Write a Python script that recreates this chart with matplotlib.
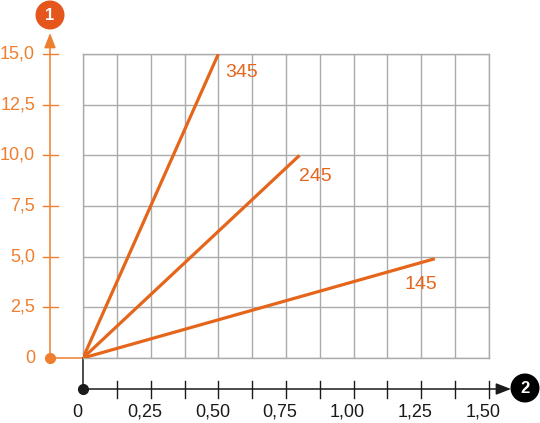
import numpy as np
import matplotlib
matplotlib.use("Agg")
import matplotlib.pyplot as plt
import matplotlib.transforms as mtransforms

plt.rcParams['font.family'] = ['Liberation Sans', 'DejaVu Sans']

# donnees
series_names = ["345", "245", "145"]
x_end = [0.50, 0.80, 1.30]
y_end = [15.0, 10.0, 4.9]
label_x = [0.585, 0.86, 1.25]
label_y = [14.1, 8.95, 3.65]

x_ticks = np.arange(0, 1.5001, 0.125)
x_labels = ["0", "0,25", "0,50", "0,75", "1,00", "1,25", "1,50"]
x_label_pos = [0, 0.25, 0.50, 0.75, 1.00, 1.25, 1.50]
y_ticks = [0, 2.5, 5.0, 7.5, 10.0, 12.5, 15.0]
y_labels = ["0", "2,5", "5,0", "7,5", "10,0", "12,5", "15,0"]

ORANGE = "#E5661B"
ORANGE_AXE = "#EE7F2E"
ORANGE_ROND = "#E4561B"
GRIS = "#ABABAB"
NOIR = "#1A1A1A"

W, H = 540, 423
fig = plt.figure(figsize=(W / 100, H / 100), dpi=100)

def fx(px):
    return px / W

def fy(py):
    return 1 - py / H

ax = fig.add_axes([fx(83), fy(358), fx(489) - fx(83), fy(54) - fy(358)])
ax.set_xlim(0, 1.5)
ax.set_ylim(0, 15)
ax.set_xticks(x_ticks)
ax.set_yticks(y_ticks)
ax.grid(True, color=GRIS, lw=1.0)
ax.tick_params(length=0, labelleft=False, labelbottom=False)
for s in ax.spines.values():
    s.set_color(GRIS)
    s.set_linewidth(1.0)

for name, xe, ye, lx, ly in zip(series_names, x_end, y_end, label_x, label_y):
    ax.plot([0, xe], [0, ye], color=ORANGE, lw=2.3, solid_capstyle="butt", zorder=3)
    ax.text(lx, ly, name, color=ORANGE, fontsize=14, ha="center", va="center")

# axe vertical orange
ty = mtransforms.blended_transform_factory(fig.transFigure, ax.transData)
ax.plot([fx(50), fx(83)], [0, 0], transform=ty, color=ORANGE_AXE, lw=1.1, clip_on=False)
ax.plot([fx(50)], [0], transform=ty, marker="o", ms=7, color=ORANGE_AXE, clip_on=False)
for yv, lab in zip(y_ticks, y_labels):
    if yv > 0:
        ax.plot([fx(43), fx(58)], [yv, yv], transform=ty, color=ORANGE_AXE, lw=1.0, clip_on=False)
    ax.text(fx(35), yv, lab, transform=ty, color=ORANGE_AXE, fontsize=13, ha="right", va="center")
ax.annotate("", xy=(fx(50), fy(33)), xytext=(fx(50), fy(358)), xycoords="figure fraction",
            textcoords="figure fraction",
            arrowprops=dict(arrowstyle="-|>,head_length=0.9,head_width=0.35", color=ORANGE_AXE,
                            lw=1.1, shrinkA=0, shrinkB=0))

# axe horizontal noir
tx = mtransforms.blended_transform_factory(ax.transData, fig.transFigure)
ax.plot([0, 0], [fy(358), fy(389)], transform=tx, color=NOIR, lw=1.1, clip_on=False)
ax.plot([0], [fy(389)], transform=tx, marker="o", ms=7, color=NOIR, clip_on=False)
for xv in x_ticks[1:]:
    ax.plot([xv, xv], [fy(381), fy(398)], transform=tx, color=NOIR, lw=1.0, clip_on=False)
off = mtransforms.offset_copy(tx, fig=fig, x=-6, y=0, units="dots")
for xv, lab in zip(x_label_pos, x_labels):
    ax.text(xv, fy(412), lab, transform=off, color=NOIR, fontsize=13, ha="center", va="center")
ax.annotate("", xy=(fx(511), fy(389)), xytext=(fx(83), fy(389)), xycoords="figure fraction",
            textcoords="figure fraction",
            arrowprops=dict(arrowstyle="-|>,head_length=0.9,head_width=0.35", color=NOIR,
                            lw=1.1, shrinkA=0, shrinkB=0))

# pastilles numerotees
fig.text(fx(50), fy(15), "1", color="white", fontsize=12, fontweight="bold", ha="center", va="center",
         bbox=dict(boxstyle="circle,pad=0.42", fc=ORANGE_ROND, ec="none"))
fig.text(fx(525), fy(388), "2", color="white", fontsize=12, fontweight="bold", ha="center", va="center",
         bbox=dict(boxstyle="circle,pad=0.42", fc="black", ec="none"))

fig.savefig("out.png", dpi=100)
